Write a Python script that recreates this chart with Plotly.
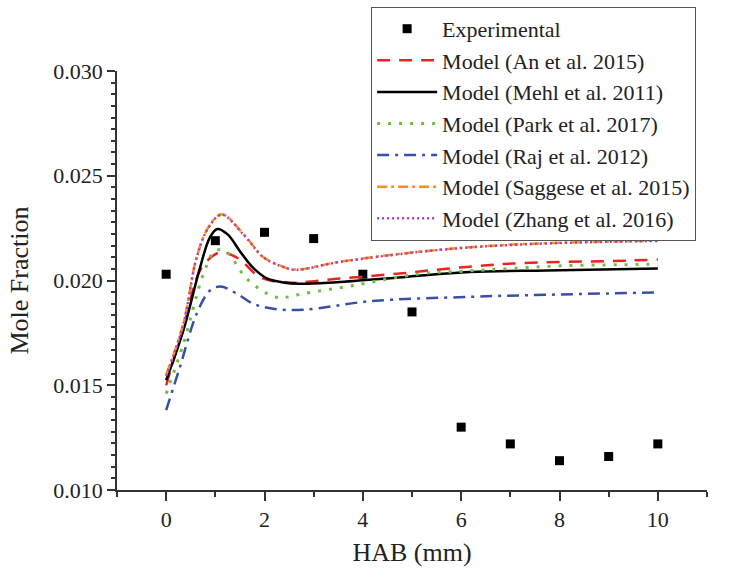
import plotly.graph_objects as go

# Experimental data
exp_x = [0, 1, 2, 3, 4, 5, 6, 7, 8, 9, 10]
exp_y = [0.0203, 0.0219, 0.0223, 0.0220, 0.0203, 0.0185, 0.0130, 0.0122, 0.0114, 0.0116, 0.0122]

# Model (An et al. 2015)
an_x = [0, 0.35, 0.69, 0.96, 1.13, 1.47, 1.91, 2.46, 3.47, 4.82, 5.83, 7.05, 9.37, 10]
an_y = [0.0150, 0.01778, 0.02048, 0.02119, 0.02135, 0.02105, 0.02016, 0.0199, 0.02008, 0.02035, 0.02059, 0.02081, 0.02095, 0.0210]

# Model (Mehl et al. 2011)
mehl_x = [0, 0.35, 0.69, 0.89, 1.04, 1.25, 1.5, 1.75, 2.05, 2.35, 2.72, 3.47, 4.82, 6.18, 7.74, 10.0]
mehl_y = [0.01524, 0.01762, 0.02063, 0.02206, 0.02246, 0.0222, 0.0214, 0.02065, 0.0201, 0.01992, 0.01984, 0.01992, 0.02016, 0.0204, 0.02048, 0.02057]

# Model (Park et al. 2017)
park_x = [0, 0.35, 0.76, 1.0, 1.23, 1.64, 2.18, 2.4, 2.78, 3.8, 5.16, 6.04, 8.15, 9.57, 10]
park_y = [0.0146, 0.01698, 0.02032, 0.02143, 0.02135, 0.02008, 0.01924, 0.01919, 0.01937, 0.01976, 0.02032, 0.02044, 0.02071, 0.02076, 0.02078]

# Model (Raj et al. 2012)
raj_x = [0, 0.28, 0.62, 0.89, 1.10, 1.44, 1.77, 2.18, 2.78, 4.15, 6.18, 7.74, 10]
raj_y = [0.01381, 0.01587, 0.01841, 0.01952, 0.01971, 0.01937, 0.01889, 0.01865, 0.0186, 0.01901, 0.01922, 0.01932, 0.01943]

# Model (Saggese et al. 2015)
sag_x = [0, 0.35, 0.62, 0.86, 1.13, 1.57, 1.98, 2.32, 2.62, 3.47, 4.82, 6.18, 7.74, 10.0]
sag_y = [0.0155, 0.01794, 0.02111, 0.02254, 0.02316, 0.02222, 0.02111, 0.02071, 0.02052, 0.02087, 0.02129, 0.02159, 0.02178, 0.0219]

# Model (Zhang et al. 2016)
zh_x = [0, 0.35, 0.62, 0.86, 1.13, 1.57, 1.98, 2.32, 2.62, 3.47, 4.82, 6.18, 7.74, 10.0]
zh_y = [0.01545, 0.01792, 0.02109, 0.02252, 0.02314, 0.02220, 0.02110, 0.02070, 0.02051, 0.02086, 0.02128, 0.02158, 0.02177, 0.02189]

FONT = "Liberation Serif"

fig = go.Figure()
fig.add_trace(go.Scatter(x=exp_x, y=exp_y, mode="markers", name="Experimental",
                         marker=dict(symbol="square", size=9, color="black")))
fig.add_trace(go.Scatter(x=an_x, y=an_y, mode="lines", name="Model (An et al. 2015)", line_shape="spline",
                         line=dict(color="#ee2222", width=2.5, dash="13px,9px")))
fig.add_trace(go.Scatter(x=mehl_x, y=mehl_y, mode="lines", name="Model (Mehl et al. 2011)", line_shape="spline",
                         line=dict(color="black", width=2.5)))
fig.add_trace(go.Scatter(x=park_x, y=park_y, mode="lines", name="Model (Park et al. 2017)", line_shape="spline",
                         line=dict(color="#6cc040", width=3, dash="3px,8px")))
fig.add_trace(go.Scatter(x=raj_x, y=raj_y, mode="lines", name="Model (Raj et al. 2012)", line_shape="spline",
                         line=dict(color="#3a4fa8", width=2.5, dash="12px,6px,3px,6px")))
fig.add_trace(go.Scatter(x=sag_x, y=sag_y, mode="lines", name="Model (Saggese et al. 2015)", line_shape="spline",
                         line=dict(color="#ff8c1a", width=2.5, dash="10px,4px,3px,4px")))
fig.add_trace(go.Scatter(x=zh_x, y=zh_y, mode="lines", name="Model (Zhang et al. 2016)", line_shape="spline",
                         line=dict(color="#b040b0", width=2.5, dash="2px,3px")))

fig.update_layout(
    width=732, height=575,
    margin=dict(l=117, r=25, t=71, b=85, autoexpand=False),
    paper_bgcolor="white", plot_bgcolor="white",
    font=dict(family=FONT, size=22, color="#222"),
    showlegend=True,
    legend=dict(xref="container", yref="container", x=0.507, y=0.988,
                xanchor="left", yanchor="top",
                bgcolor="white", bordercolor="#555", borderwidth=1,
                font=dict(family=FONT, size=22, color="#222"),
                itemwidth=60, tracegroupgap=0),
)
fig.update_xaxes(
    range=[-1, 11], tickvals=[0, 2, 4, 6, 8, 10],
    showline=True, linecolor="#333", linewidth=1.5,
    ticks="outside", ticklen=9, tickwidth=1.5, tickcolor="#333",
    minor=dict(dtick=1, tick0=-1, ticks="outside", ticklen=5, tickwidth=1.5, tickcolor="#333"),
    showgrid=False, zeroline=False,
    title=dict(text="HAB (mm)", font=dict(family=FONT, size=26), standoff=12),
    tickfont=dict(family=FONT, size=22),
)
fig.update_yaxes(
    range=[0.010, 0.030], tickvals=[0.010, 0.015, 0.020, 0.025, 0.030], tickformat=".3f",
    showline=True, linecolor="#333", linewidth=1.5,
    ticks="outside", ticklen=8, tickwidth=1.5, tickcolor="#333",
    minor=dict(dtick=0.005 / 9, tick0=0.010, ticks="outside", ticklen=4, tickwidth=1.5, tickcolor="#333"),
    showgrid=False, zeroline=False,
    title=dict(text="Mole Fraction", font=dict(family=FONT, size=26), standoff=17),
    tickfont=dict(family=FONT, size=22),
)

fig.write_html("out.html")
